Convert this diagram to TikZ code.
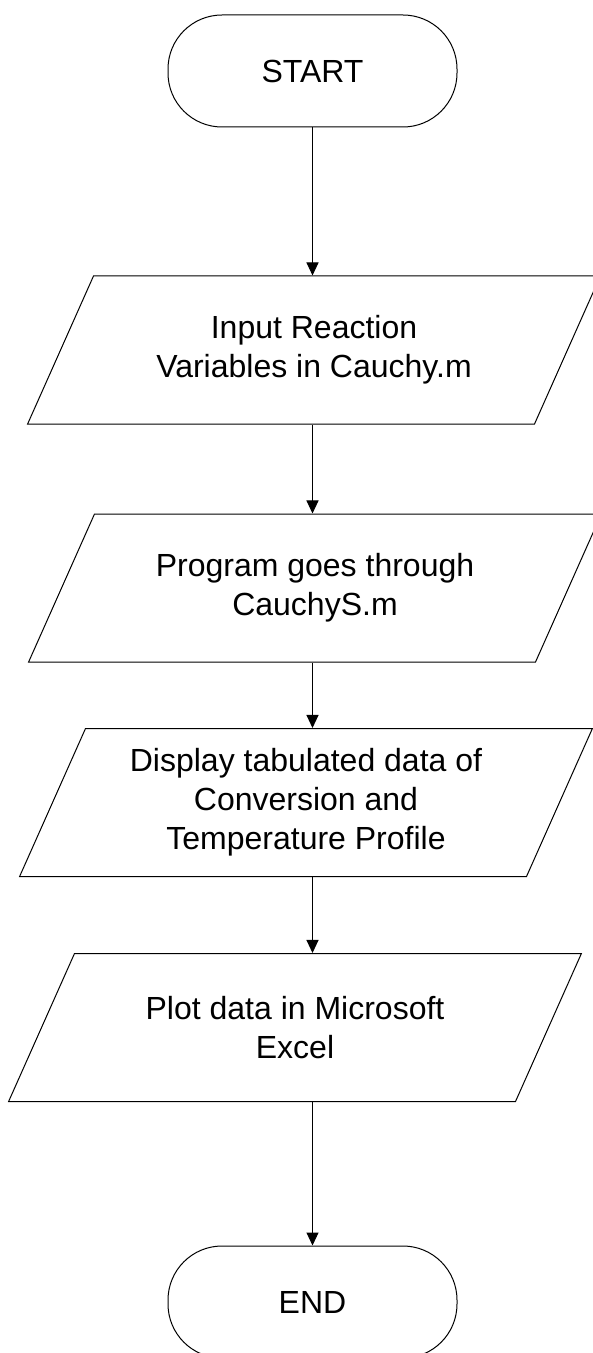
\documentclass[tikz,border=0pt]{standalone}
\usepackage{fontspec}
\setmainfont{Liberation Sans}
\usetikzlibrary{shapes.geometric,arrows.meta}

\begin{document}
\begin{tikzpicture}[x=0.5pt,y=-0.5pt,line width=0.5pt,
   term/.style={rectangle,draw,rounded corners=27pt,minimum width=144.5pt,minimum height=56pt,font=\fontsize{16}{19.5}\selectfont},
   io/.style={trapezium,draw,trapezium left angle=66,trapezium right angle=114,inner sep=0pt,font=\fontsize{16}{19.5}\selectfont,
      execute at begin node={\begin{minipage}[c][74pt][c]{220.5pt}\centering},
      execute at end node={\end{minipage}}},
   flow/.style={-{Triangle[length=6.5pt,width=6pt]}}]
\useasboundingbox (0,0) rectangle (593,1353);
\node[term] (start) at (312.5,71) {START};
\node[io] (in1) at (314,350) {Input Reaction\\Variables in Cauchy.m};
\node[io] (prog) at (315,588) {Program goes through\\CauchyS.m};
\node[io] (disp) at (306,802.5) {Display tabulated data of\\Conversion and\\Temperature Profile};
\node[io] (plot) at (295,1027.5) {Plot data in Microsoft\\Excel};
\node[term] (stop) at (312.5,1302) {END};
% arrows straight down
\draw[flow] (start) -- (start |- in1.north);
\draw[flow] (in1.south -| start) -- (prog.north -| start);
\draw[flow] (prog.south -| start) -- (disp.north -| start);
\draw[flow] (disp.south -| start) -- (plot.north -| start);
\draw[flow] (plot.south -| start) -- (stop);
\end{tikzpicture}
\end{document}
